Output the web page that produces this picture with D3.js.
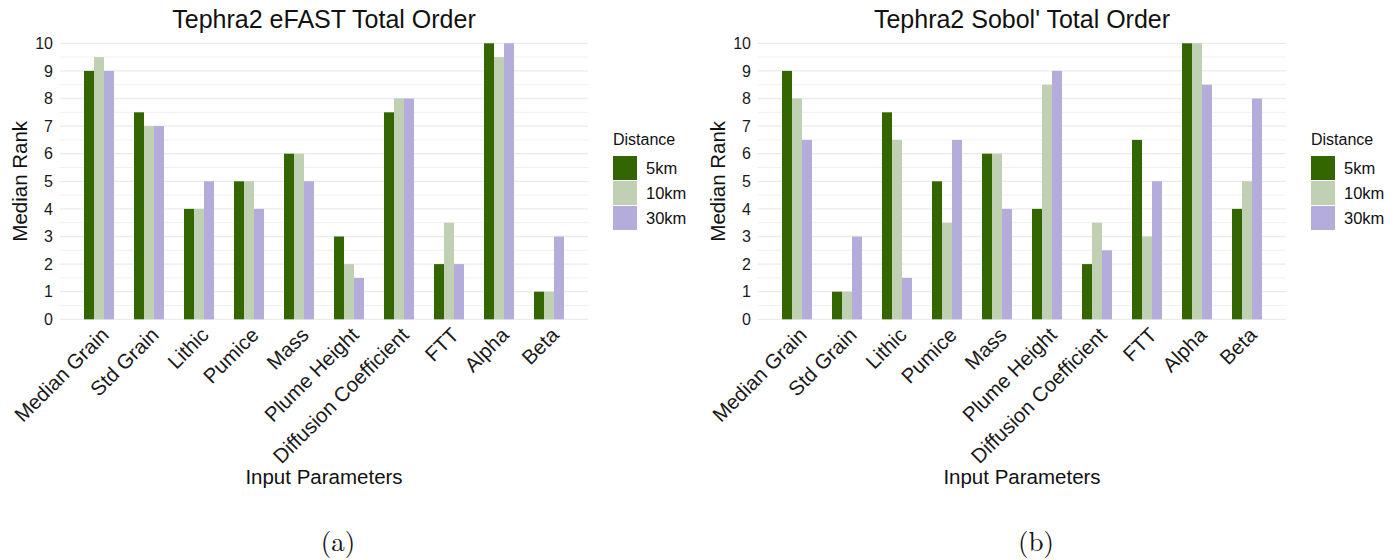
<!DOCTYPE html>
<html>
<head>
<meta charset="utf-8">
<script src="https://cdn.jsdelivr.net/npm/d3@7"></script>
<style>
  html, body { margin: 0; padding: 0; background: #fff; }
  svg { display: block; }
  text { font-family: "Liberation Sans", Arial, Helvetica, sans-serif; }
  text.caption { font-family: "Latin Modern Roman", "DejaVu Serif", "Liberation Serif", serif; }
</style>
</head>
<body>
<svg id="chart" width="1399" height="560"></svg>
<script>
// ---- Data ----
const categories = ["Median Grain", "Std Grain", "Lithic", "Pumice", "Mass",
  "Plume Height", "Diffusion Coefficient", "FTT", "Alpha", "Beta"];
const distances = ["5km", "10km", "30km"];
const colors = ["#336600", "#bfd0b3", "#b4addb"];
const yTicks = [0, 1, 2, 3, 4, 5, 6, 7, 8, 9, 10];

// eFAST total order median ranks (5km, 10km, 30km)
const efast5km  = [9, 7.5, 4, 5, 6, 3, 7.5, 2, 10, 1];
const efast10km = [9.5, 7, 4, 5, 6, 2, 8, 3.5, 9.5, 1];
const efast30km = [9, 7, 5, 4, 5, 1.5, 8, 2, 10, 3];

// Sobol' total order median ranks (5km, 10km, 30km)
const sobol5km  = [9, 1, 7.5, 5, 6, 4, 2, 6.5, 10, 4];
const sobol10km = [8, 1, 6.5, 3.5, 6, 8.5, 3.5, 3, 10, 5];
const sobol30km = [6.5, 3, 1.5, 6.5, 4, 9, 2.5, 5, 8.5, 8];

const panels = [
  { title: "Tephra2 eFAST Total Order", series: [efast5km, efast10km, efast30km], caption: "(a)", dx: 0 },
  { title: "Tephra2 Sobol' Total Order", series: [sobol5km, sobol10km, sobol30km], caption: "(b)", dx: 698 }
];

const svg = d3.select("#chart");

function drawPanel(p) {
  const g = svg.append("g").attr("transform", `translate(${p.dx},0)`);
  const left = 60, right = 588, top = 43.3, bottom = 319.3;

  const x = d3.scaleBand().domain(categories).range([left, right])
    .paddingInner(0).paddingOuter(0.28);
  const xs = d3.scaleBand().domain(distances).range([0, x.bandwidth()])
    .paddingInner(0).paddingOuter(1);
  const y = d3.scaleLinear().domain([0, 10]).range([bottom, top]);

  // minor grid
  const minor = d3.range(0.5, 10, 1);
  g.append("g").selectAll("line").data(minor).join("line")
    .attr("x1", left).attr("x2", right)
    .attr("y1", d => y(d)).attr("y2", d => y(d))
    .attr("stroke", "#f1f1f1").attr("stroke-width", 1);
  // major grid
  g.append("g").selectAll("line").data(yTicks).join("line")
    .attr("x1", left).attr("x2", right)
    .attr("y1", d => y(d)).attr("y2", d => y(d))
    .attr("stroke", "#ebebeb").attr("stroke-width", 1.3);

  // bars
  const rows = [];
  categories.forEach((c, i) => distances.forEach((dname, j) => rows.push({ c, dname, j, v: p.series[j][i] })));
  g.append("g").selectAll("rect").data(rows).join("rect")
    .attr("x", d => x(d.c) + xs(d.dname))
    .attr("width", xs.bandwidth())
    .attr("y", d => y(d.v))
    .attr("height", d => y(0) - y(d.v))
    .attr("fill", d => colors[d.j]);

  // y axis
  const ya = g.append("g").attr("transform", `translate(${left - 7},0)`)
    .call(d3.axisLeft(y).tickValues(yTicks).tickSize(0).tickPadding(0).tickFormat(d3.format("d")));
  ya.select(".domain").remove();
  ya.selectAll("text").attr("font-size", 16).attr("fill", "#1a1a1a");

  // x axis labels
  const xa = g.append("g").attr("transform", `translate(0,${bottom})`)
    .call(d3.axisBottom(x).tickSize(0).tickPadding(0));
  xa.select(".domain").remove();
  xa.selectAll("text")
    .attr("font-size", 20.5).attr("fill", "#1a1a1a")
    .attr("text-anchor", "end")
    .attr("dy", null).attr("y", null)
    .attr("transform", "translate(11,17) rotate(-45)");

  // titles
  g.append("text").attr("x", (left + right) / 2).attr("y", 28)
    .attr("text-anchor", "middle").attr("font-size", 25).attr("fill", "#111")
    .text(p.title);
  g.append("text").attr("transform", `translate(27,${(top + bottom) / 2}) rotate(-90)`)
    .attr("text-anchor", "middle").attr("font-size", 20.5).attr("fill", "#111")
    .text("Median Rank");
  g.append("text").attr("x", (left + right) / 2).attr("y", 484)
    .attr("text-anchor", "middle").attr("font-size", 20.5).attr("fill", "#111")
    .text("Input Parameters");

  // legend
  const lg = g.append("g").attr("transform", "translate(613,0)");
  lg.append("text").attr("x", 0).attr("y", 145).attr("font-size", 16).attr("fill", "#111").text("Distance");
  const ly = d3.scaleBand().domain(distances).range([155.5, 230.5]);
  lg.selectAll("rect").data(distances).join("rect")
    .attr("x", 0).attr("y", d => ly(d) + 0.5).attr("width", 24).attr("height", ly.bandwidth() - 1)
    .attr("fill", (d, i) => colors[i]);
  lg.selectAll("text.lab").data(distances).join("text").attr("class", "lab")
    .attr("x", 33).attr("y", d => ly(d) + ly.bandwidth() / 2)
    .attr("dominant-baseline", "central").attr("font-size", 16.5).attr("fill", "#111")
    .text(d => d);

  // caption
  g.append("text").attr("class", "caption").attr("x", 338).attr("y", 551).attr("text-anchor", "middle")
    .attr("font-size", 27).attr("fill", "#111").text(p.caption);
}

panels.forEach(drawPanel);
</script>
</body>
</html>
